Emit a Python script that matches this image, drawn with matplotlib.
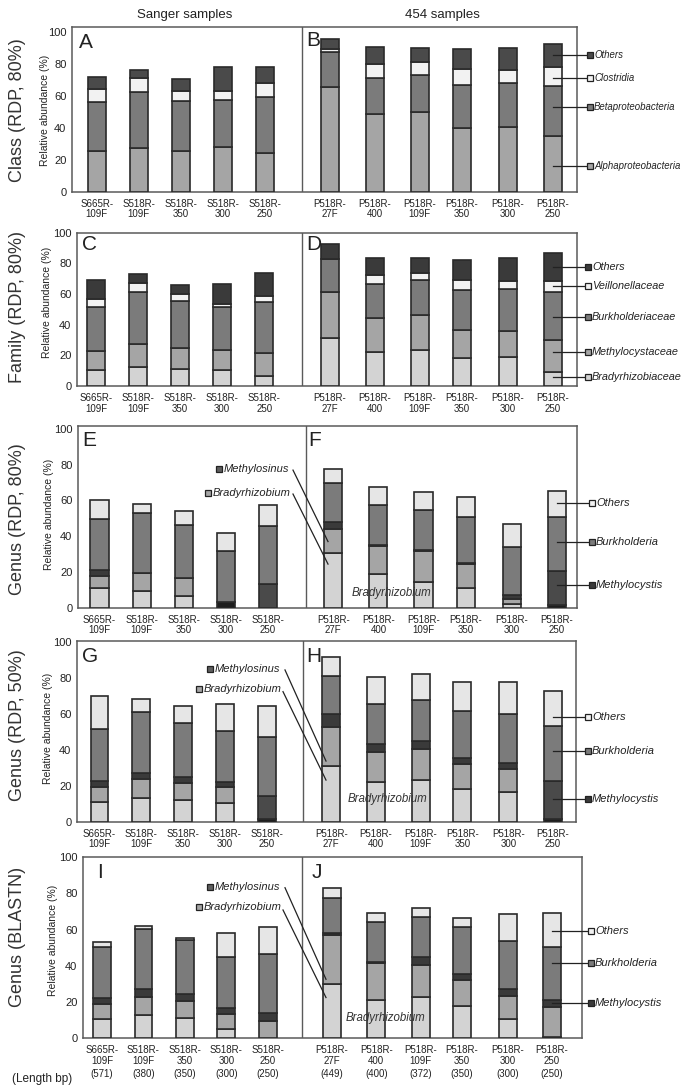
import numpy as np
import matplotlib
matplotlib.use('Agg')
import matplotlib.pyplot as plt
from matplotlib.transforms import blended_transform_factory

plt.rcParams['font.family'] = ['Liberation Sans', 'DejaVu Sans']

# ---------------- data ----------------
sanger_labels = ['S665R-\n109F', 'S518R-\n109F', 'S518R-\n350', 'S518R-\n300', 'S518R-\n250']
p454_labels = ['P518R-\n27F', 'P518R-\n400', 'P518R-\n109F', 'P518R-\n350', 'P518R-\n300', 'P518R-\n250']
categories = sanger_labels + p454_labels
length_bp = ['(571)', '(380)', '(350)', '(300)', '(250)', '(449)', '(400)', '(372)', '(350)', '(300)', '(250)']

# Class (RDP, 80%) -- segment heights (%)
class_alpha = [25.5, 27.6, 25.5, 28.2, 24.5, 65.5, 48.5, 50.2, 40.2, 40.6, 35.1]
class_beta = [31.0, 34.7, 31.6, 29.3, 34.7, 22.4, 22.6, 23.0, 26.5, 27.4, 31.2]
class_clostridia = [7.7, 9.2, 6.3, 5.9, 8.8, 1.6, 9.0, 8.4, 10.1, 8.4, 11.7]
class_others = [7.6, 4.9, 7.1, 15.1, 10.5, 6.3, 10.5, 8.8, 12.7, 14.0, 14.7]

# Family (RDP, 80%)
fam_brady = [10.4, 12.6, 11.3, 10.4, 6.7, 31.5, 22.4, 23.5, 18.5, 19.1, 8.9]
fam_methylocyst = [12.6, 15.0, 13.7, 12.9, 14.6, 29.6, 21.7, 22.8, 18.0, 16.8, 21.1]
fam_burk = [28.7, 33.7, 30.4, 28.4, 33.3, 21.7, 22.4, 22.8, 26.1, 27.4, 31.1]
fam_veill = [4.8, 5.7, 4.6, 1.6, 4.1, 0.0, 5.7, 4.8, 6.5, 5.4, 7.6]
fam_others = [12.6, 6.3, 5.7, 13.2, 15.2, 9.8, 11.1, 9.4, 13.1, 15.0, 17.8]

# Genus (RDP, 80%)
g80_vdark = [0, 0, 0, 3.4, 0, 0, 0, 0, 0, 0, 1.5]
g80_methylocystis = [0, 0, 0, 0, 13.1, 0, 0, 0, 0, 0, 19.0]
g80_light = [11.2, 9.5, 6.7, 0, 0, 30.4, 18.7, 14.2, 10.8, 1.9, 0]
g80_mid = [6.3, 9.7, 9.7, 0, 0, 13.6, 15.8, 17.5, 13.6, 2.8, 0]
g80_band = [3.4, 0, 0, 0, 0, 4.0, 0.6, 0.6, 0.4, 2.4, 0]
g80_burk = [28.5, 33.6, 29.9, 28.5, 32.8, 22.0, 22.4, 22.4, 25.8, 27.0, 30.4]
g80_others = [10.9, 5.0, 7.8, 10.1, 11.6, 7.8, 10.2, 10.2, 11.5, 12.5, 14.4]

# Genus (RDP, 50%)
g50_vdark = [0, 0, 0, 0, 1.7, 0, 0, 0, 0, 0, 1.5]
g50_methylocystis = [0, 0, 0, 0, 12.6, 0, 0, 0, 0, 0, 21.2]
g50_light = [10.8, 13.4, 11.9, 10.2, 0, 31.0, 22.3, 23.2, 18.0, 16.7, 0]
g50_mid = [8.7, 10.4, 9.5, 8.9, 0, 22.0, 16.4, 17.3, 14.0, 12.5, 0]
g50_band = [3.2, 3.5, 3.3, 3.0, 0, 6.9, 4.4, 4.5, 3.3, 3.7, 0]
g50_burk = [29.0, 34.0, 30.1, 28.6, 32.7, 21.5, 22.3, 22.8, 26.4, 27.1, 30.6]
g50_others = [18.4, 6.9, 9.7, 14.9, 17.5, 10.6, 15.5, 14.5, 16.4, 18.1, 19.7]

# Genus (BLASTN)
gb_vdark = [0, 0, 0, 0, 0, 0, 0, 0, 0, 0, 0.9]
gb_methylocystis = [0, 0, 0, 0, 0, 0, 0, 0, 0, 0, 0]
gb_light = [10.5, 12.9, 11.4, 5.0, 0, 29.8, 21.2, 23.0, 18.0, 10.5, 0]
gb_mid = [8.5, 10.1, 9.4, 8.4, 9.6, 27.3, 20.2, 17.5, 14.2, 13.1, 16.2]
gb_band = [3.5, 4.1, 3.5, 3.5, 4.2, 0.9, 1.0, 4.3, 3.2, 3.5, 4.1]
gb_burk = [28.1, 33.1, 30.0, 28.2, 32.8, 19.7, 22.1, 22.4, 25.9, 26.7, 29.4]
gb_others = [2.4, 1.9, 1.3, 12.9, 15.1, 5.5, 4.9, 4.6, 5.0, 14.9, 18.8]

# ---------------- styling ----------------
C_LIGHT = '#d3d3d3'
C_MID = '#a5a5a5'
C_BURK = '#7b7b7b'
C_WHITE = '#f2f2f2'
C_GOTH = '#e6e6e6'
C_DARK = '#4a4a4a'
C_DARKER = '#3a3a3a'
C_VDARK = '#1e1e1e'
EDGE = '#2a2a2a'
TXT = '#222222'

# slot positions of the bars (layout)
xpos = np.array([0, 1, 2, 3, 4, 5.55, 6.62, 7.69, 8.69, 9.79, 10.86])
BAR_W = 0.43

W, H = 695, 1088
fig = plt.figure(figsize=(W / 100, H / 100), dpi=100)
fig.patch.set_facecolor('white')
narrow = ['Liberation Sans Narrow', 'Liberation Sans', 'DejaVu Sans']


def make_panel(left, right, top, y0, y100, x0, xlast, div):
    scale = (xlast - x0) / (xpos[-1] - xpos[0])
    ppu = (y0 - y100) / 100.0
    ymax = (y0 - top) / ppu
    ax = fig.add_axes([left / W, 1 - y0 / H, (right - left) / W, (y0 - top) / H])
    ax.set_xlim((left - x0) / scale, (right - x0) / scale)
    ax.set_ylim(0, ymax)
    ax.set_yticks([0, 20, 40, 60, 80, 100])
    ax.set_xticks(xpos)
    ax.set_xticklabels(categories, fontsize=7, family=narrow, linespacing=1.1, color=TXT)
    ax.tick_params(axis='x', length=0, pad=5)
    ax.tick_params(axis='y', length=0, labelsize=8, labelcolor=TXT, pad=4)
    for s in ax.spines.values():
        s.set_color('#5a5a5a')
        s.set_linewidth(1.1)
    ax.axvline((div - x0) / scale, color='#5a5a5a', lw=1.0, zorder=1)

    def px2x(px):
        return (px - x0) / scale
    return ax, px2x


def stack(ax, segs, colors):
    bottom = np.zeros(len(xpos))
    for vals, c in zip(segs, colors):
        vals = np.asarray(vals, dtype=float)
        ax.bar(xpos, vals, width=BAR_W, bottom=bottom, color=c, edgecolor=EDGE,
               linewidth=1.2, zorder=3)
        bottom += vals


def right_legend(ax, px2x, entries, sq_px, fs):
    bx = xpos[-1]
    xs = px2x(sq_px)
    for label, yv, fc in entries:
        ax.plot([bx, xs], [yv, yv], color=TXT, lw=0.9, clip_on=False, zorder=6)
        ax.plot([xs], [yv], marker='s', ms=4.2, mfc=fc, mec=TXT, mew=0.9,
                clip_on=False, zorder=7)
        ax.text(px2x(sq_px + 4), yv, label, style='italic', fontsize=fs,
                va='center', ha='left', clip_on=False, color=TXT)


def inner_labels(ax, px2x, spec):
    for label, sq, tx, yv, l0, l1, fc in spec:
        ax.plot([px2x(sq)], [yv], marker='s', ms=4.2, mfc=fc, mec=TXT, mew=0.9,
                clip_on=False, zorder=7)
        ax.text(px2x(tx), yv, label, style='italic', fontsize=8, va='center',
                ha='left', color=TXT, zorder=7)
        ax.plot([px2x(l0[0]), px2x(l1[0])], [l0[1], l1[1]], color=TXT, lw=0.9, zorder=6)


def letter(px, py, s):
    fig.text(px / W, 1 - py / H, s, fontsize=15, ha='left', va='center', color=TXT)


def ylab(px, py):
    fig.text(px / W, 1 - py / H, 'Relative abundance (%)', rotation=90, fontsize=7.5,
             ha='center', va='center', color=TXT)


def rowlab(py, s):
    fig.text(18 / W, 1 - py / H, s, rotation=90, fontsize=13, ha='center', va='center',
             color='#333333')


# headers
fig.text(185 / W, 1 - 15 / H, 'Sanger samples', fontsize=9.5, ha='center', va='center', color=TXT)
fig.text(442 / W, 1 - 15 / H, '454 samples', fontsize=9.5, ha='center', va='center', color=TXT)

# ---- Class ----
ax, p = make_panel(72, 577, 27, 191.7, 32.3, 96.7, 553, 302)
stack(ax, [class_alpha, class_beta, class_clostridia, class_others],
      [C_MID, C_BURK, C_WHITE, C_DARK])
right_legend(ax, p, [('Others', 85.8, C_DARK), ('Clostridia', 71.5, C_WHITE),
                     ('Betaproteobacteria', 53.3, C_BURK),
                     ('Alphaproteobacteria', 16.3, C_MID)], 590, 6.9)
letter(79, 42, 'A'); letter(306, 41, 'B')
ylab(45, 110); rowlab(110, 'Class (RDP, 80%)')

# ---- Family ----
ax, p = make_panel(77, 577, 232.7, 386, 232.7, 96, 553, 302)
stack(ax, [fam_brady, fam_methylocyst, fam_burk, fam_veill, fam_others],
      [C_LIGHT, C_MID, C_BURK, C_WHITE, C_DARKER])
right_legend(ax, p, [('Others', 77.4, C_DARKER), ('Veillonellaceae', 65.2, C_WHITE),
                     ('Burkholderiaceae', 45.2, C_BURK),
                     ('Methylocystaceae', 22.4, C_MID),
                     ('Bradyrhizobiaceae', 5.7, C_LIGHT)], 588, 7.8)
letter(82, 244, 'C'); letter(306, 244, 'D')
ylab(47, 302); rowlab(307, 'Family (RDP, 80%)')

genus_colors = [C_VDARK, C_DARK, C_LIGHT, C_MID, C_DARKER, C_BURK, C_GOTH]

# ---- Genus RDP 80 ----
ax, p = make_panel(78, 577, 425.7, 607.7, 429, 99.5, 557, 306)
stack(ax, [g80_vdark, g80_methylocystis, g80_light, g80_mid, g80_band, g80_burk, g80_others],
      genus_colors)
right_legend(ax, p, [('Others', 58.4, C_WHITE), ('Burkholderia', 36.6, C_BURK),
                     ('Methylocystis', 12.7, C_DARKER)], 592, 8)
inner_labels(ax, p, [('Methylosinus', 219, 224, 77.4, (293, 77.0), (328, 37.0), '#5e5e5e'),
                     ('Bradyrhizobium', 208, 213, 64.4, (293, 63.6), (328, 24.4), C_MID)])
ax.text(p(352), 8.0, 'Bradyrhizobium', style='italic', fontsize=8.3, ha='left',
        va='center', color='#333333', zorder=8)
letter(82, 441, 'E'); letter(308, 441, 'F')
ylab(49, 514); rowlab(519, 'Genus (RDP, 80%)')

# ---- Genus RDP 50 ----
ax, p = make_panel(77, 576, 640.7, 821.7, 642.3, 99.5, 553, 303)
stack(ax, [g50_vdark, g50_methylocystis, g50_light, g50_mid, g50_band, g50_burk, g50_others],
      genus_colors)
right_legend(ax, p, [('Others', 58.6, C_WHITE), ('Burkholderia', 39.6, C_BURK),
                     ('Methylocystis', 12.5, C_DARKER)], 588, 8)
inner_labels(ax, p, [('Methylosinus', 210, 215, 85.1, (285, 84.6), (326, 33.8), '#5e5e5e'),
                     ('Bradyrhizobium', 199, 204, 74.0, (283, 72.5), (326, 23.2), C_MID)])
ax.text(p(348), 12.6, 'Bradyrhizobium', style='italic', fontsize=8.3, ha='left',
        va='center', color='#333333', zorder=8)
letter(82, 656, 'G'); letter(306, 656, 'H')
ylab(48, 728); rowlab(725, 'Genus (RDP, 50%)')

# ---- Genus BLASTN ----
ax, p = make_panel(83, 582, 857.3, 1038.3, 857.3, 102, 552, 302)
stack(ax, [gb_vdark, gb_methylocystis, gb_light, gb_mid, gb_band, gb_burk, gb_others],
      genus_colors)
right_legend(ax, p, [('Others', 59.5, C_WHITE), ('Burkholderia', 41.4, C_BURK),
                     ('Methylocystis', 19.3, C_DARKER)], 591, 8)
inner_labels(ax, p, [('Methylosinus', 210, 215, 83.8, (285, 83.2), (326, 32.6), '#5e5e5e'),
                     ('Bradyrhizobium', 199, 204, 72.4, (283, 70.9), (326, 22.5), C_MID)])
ax.text(p(346), 11.4, 'Bradyrhizobium', style='italic', fontsize=8.3, ha='left',
        va='center', color='#333333', zorder=8)
letter(97, 872, 'I'); letter(312, 872, 'J')
ylab(53, 940); rowlab(937, 'Genus (BLASTN)')

tr = blended_transform_factory(ax.transData, fig.transFigure)
for x, s in zip(xpos, length_bp):
    ax.text(x, 1 - 1074 / H, s, transform=tr, fontsize=7, family=narrow, ha='center',
            va='center', color=TXT)
fig.text(42 / W, 1 - 1079 / H, '(Length bp)', fontsize=8.5, ha='center', va='center', color=TXT)

fig.savefig('out.png', dpi=100)
